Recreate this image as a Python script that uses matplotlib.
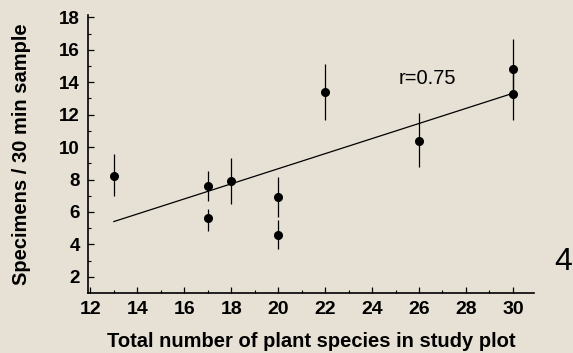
import numpy as np
import matplotlib
matplotlib.use("Agg")
import matplotlib.pyplot as plt

plt.rcParams['font.family'] = ['Liberation Sans', 'DejaVu Sans']

# Data
species = [13, 17, 17, 18, 20, 20, 22, 26, 30, 30]
specimens = [8.2, 7.6, 5.6, 7.9, 6.9, 4.6, 13.4, 10.4, 14.8, 13.3]
err_low = [1.2, 0.9, 0.8, 1.4, 1.2, 0.9, 1.7, 1.6, 1.85, 1.6]
err_high = [1.35, 0.9, 0.6, 1.4, 1.25, 0.9, 1.7, 1.7, 1.85, 1.6]
r_label = "r=0.75"
x_ticks = [12, 14, 16, 18, 20, 22, 24, 26, 28, 30]
y_ticks = [2, 4, 6, 8, 10, 12, 14, 16, 18]

bg = '#e6e1d4'
fig = plt.figure(figsize=(5.73, 3.53), dpi=100, facecolor=bg)
ax = fig.add_axes([0.1536, 0.170, 0.932 - 0.1536, 0.9575 - 0.170])
ax.set_facecolor(bg)

ax.errorbar(species, specimens, yerr=[err_low, err_high], fmt='o', color='black',
            ms=5.5, elinewidth=0.9, capsize=0, zorder=3)

# regression line
slope, intercept = np.polyfit(species, specimens, 1)
xs = np.array([min(species), max(species)])
ax.plot(xs, slope * xs + intercept, color='black', lw=0.9)

ax.text(26.35, 14.25, r_label, fontsize=14.5, ha='center', va='center')

ax.set_xlim(11.9, 30.9)
ax.set_ylim(1.0, 18.15)
ax.set_xticks(x_ticks)
ax.set_yticks(y_ticks)
ax.set_xticks(np.arange(13, 31, 2), minor=True)
ax.set_yticks(np.arange(3, 18, 2), minor=True)
ax.tick_params(axis='both', which='major', direction='in', length=4, width=0.9)
ax.tick_params(axis='x', which='major', labelsize=14, pad=6)
ax.tick_params(axis='y', which='major', labelsize=13.5, pad=6)
ax.tick_params(axis='both', which='minor', direction='in', length=2.5, width=0.8)
for lab in ax.get_xticklabels() + ax.get_yticklabels():
    lab.set_fontweight('bold')

for s in ['top', 'right']:
    ax.spines[s].set_visible(False)
for s in ['left', 'bottom']:
    ax.spines[s].set_linewidth(1.2)

ax.set_xlabel('Total number of plant species in study plot', fontsize=14.5,
              fontweight='bold', labelpad=10)
ax.set_ylabel('Specimens / 30 min sample', fontsize=14.5, fontweight='bold', labelpad=20)

fig.text(563 / 573, 1 - 262 / 353, '4', fontsize=23, ha='center', va='center')

fig.savefig('out.png', dpi=100, facecolor=bg)
